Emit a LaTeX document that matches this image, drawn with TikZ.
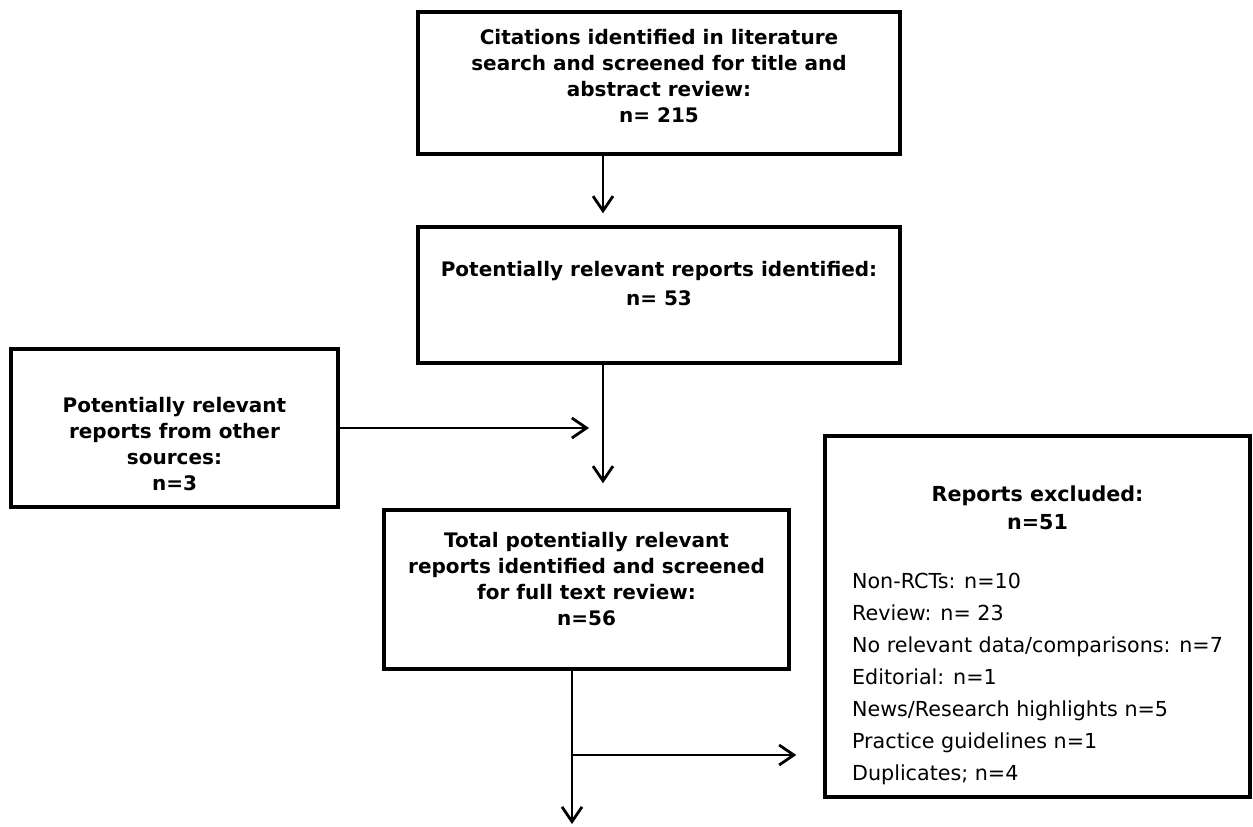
\documentclass[tikz,border=0pt]{standalone}
\usepackage{fontspec}
\setmainfont{DejaVu Sans}
\usetikzlibrary{arrows.meta}

\begin{document}
\begin{tikzpicture}[x=0.75pt, y=-0.75pt,
    box/.style={draw, line width=2.6pt, align=center, inner sep=0pt, font=\fontsize{15pt}{19.5pt}\selectfont\bfseries},
    arr/.style={line width=2.1pt, -{Straight Barb[length=11pt, width=15pt]}}]
    \useasboundingbox (0,0) rectangle (1253,826);
    \coordinate (spine) at (603,0);
    \coordinate (split) at (572,755);
    \coordinate (exit) at (572,824);
    \node (cite) at (659,83) [box, minimum width=361.5pt, minimum height=106.5pt] {Citations identified in literature\\ search and screened for title and\\ abstract review:\\ n= 215\rule[-10.5pt]{0pt}{10.5pt}};
    \node (rel) at (659,295) [box, minimum width=361.5pt, minimum height=102pt] {Potentially relevant reports identified:\\[2.25pt] n= 53\rule[-18pt]{0pt}{18pt}};
    \node (other) at (174.5,428) [box, minimum width=245.25pt, minimum height=118.5pt] {\rule{0pt}{35.4pt}Potentially relevant\\ reports from other\\ sources:\\ n=3};
    \node (total) at (586.5,589.5) [box, minimum width=303.75pt, minimum height=119.25pt] {Total potentially relevant\\ reports identified and screened\\ for full text review:\\ n=56\rule[-16.5pt]{0pt}{16.5pt}};
    \node (excl) at (1037.5,616.5) [box, minimum width=318.75pt, minimum height=270.75pt, font=\fontsize{15.5pt}{24pt}\selectfont] {\begin{tabular}{@{}l@{}}
        \multicolumn{1}{@{}c@{}}{\rule{0pt}{43.8pt}\bfseries Reports excluded:}\\[-3pt]
        \multicolumn{1}{@{}c@{}}{\bfseries n=51}\\[20.25pt]
        Non-RCTs: n=10\\
        Review: n= 23\\
        No relevant data/comparisons: n=7\\
        Editorial: n=1\\
        News/Research highlights n=5\\
        Practice guidelines n=1\\
        Duplicates; n=4
    \end{tabular}};
    \draw [arr, shorten >=9pt] (cite.south -| spine) -- (rel.north -| spine);
    \draw [arr, shorten >=18.75pt] (rel.south -| spine) -- (total.north -| spine);
    \draw [arr, shorten >=10.5pt] (other.east) -- (other.east -| spine);
    \draw [arr] (total.south -| exit) -- (exit);
    \draw [arr, shorten >=20.25pt] (split) -- (split -| excl.west);
\end{tikzpicture}
\end{document}
